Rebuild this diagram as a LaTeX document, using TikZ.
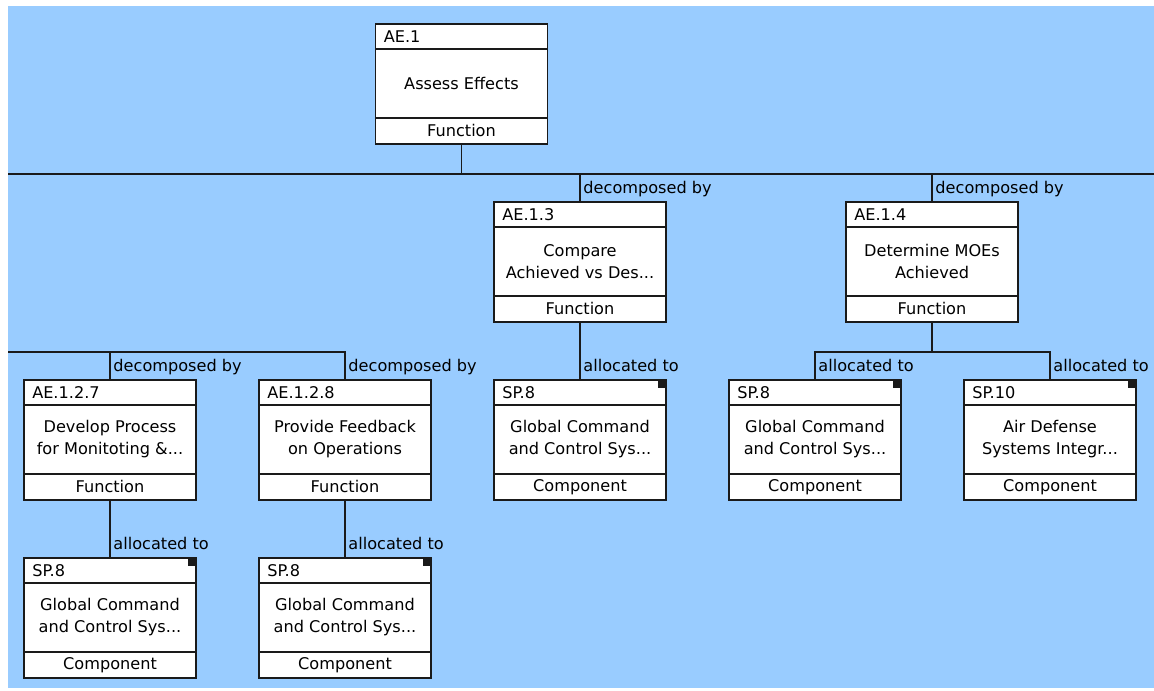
\documentclass[tikz,border=0pt]{standalone}
\usepackage{fontspec}
\setmainfont{DejaVu Sans}
\definecolor{canvasblue}{HTML}{99CCFF}
\definecolor{ink}{HTML}{1A1A1A}

% One element box: name, centre x, top y, identifier, body text, kind
\newcommand\elembox[6]{%
  \node[elem, anchor=north] (#1) at (#2,#3) {};
  \draw[sep] ([yshift=-18.75pt]#1.north west) -- ([yshift=-18.75pt]#1.north east);
  \draw[sep] ([yshift=19.5pt]#1.south west) -- ([yshift=19.5pt]#1.south east);
  \node[anchor=west] (#1-id) at ([xshift=6pt,yshift=-9.6pt]#1.north west) {#4};
  \node[align=center] (#1-body) at ([yshift=0.4pt]#1.center) {#5};
  \node (#1-kind) at ([yshift=9.9pt]#1.south) {#6};
}
% Small filled mark in the upper right corner of component boxes
\newcommand\cornermark[1]{%
  \fill[ink] (#1.north east) rectangle ++(-6pt,-6pt);
}

\begin{document}
\begin{tikzpicture}[x=0.75pt,y=-0.75pt,
  every node/.style={font=\fontsize{12.1pt}{16.5pt}\selectfont, inner sep=0pt, text=black},
  elem/.style={draw=ink, fill=white, line width=1.1pt, minimum width=129pt,
    minimum height=90pt, inner sep=0pt, outer sep=0pt},
  sep/.style={draw=ink, line width=1.1pt},
  link/.style={draw=ink, line width=1.3pt},
  lbl/.style={anchor=base west},
]
\useasboundingbox (0,0) rectangle (1154,691);
\fill[canvasblue] (8,6) rectangle (1154,688);

% elements
\elembox{ae1}{461.5}{24}{AE.1}{Assess Effects}{Function}
\elembox{ae13}{580}{202}{AE.1.3}{Compare\\Achieved vs Des...}{Function}
\elembox{ae14}{932}{202}{AE.1.4}{Determine MOEs\\Achieved}{Function}
\elembox{ae127}{110}{380}{AE.1.2.7}{Develop Process\\for Monitoting \&...}{Function}
\elembox{ae128}{345}{380}{AE.1.2.8}{Provide Feedback\\on Operations}{Function}
\elembox{sp8b}{580}{380}{SP.8}{Global Command\\and Control Sys...}{Component}
\elembox{sp8c}{815}{380}{SP.8}{Global Command\\and Control Sys...}{Component}
\elembox{sp10}{1050}{380}{SP.10}{Air Defense\\Systems Integr...}{Component}
\elembox{sp8d}{110}{558}{SP.8}{Global Command\\and Control Sys...}{Component}
\elembox{sp8e}{345}{558}{SP.8}{Global Command\\and Control Sys...}{Component}
\cornermark{sp8b}
\cornermark{sp8c}
\cornermark{sp10}
\cornermark{sp8d}
\cornermark{sp8e}

% connector junctions
\coordinate (busA) at (8,174);
\coordinate (busAend) at (1154,174);
\coordinate (busB) at (8,352);
\coordinate (fork14) at (932,352);

% decomposition of AE.1
\draw[link] (busA) -- (busAend);
\draw[link] (ae1.south) -- (ae1.south |- busA);
\draw[link] (ae13.north) -- (ae13.north |- busA);
\draw[link] (ae14.north) -- (ae14.north |- busA);

% decomposition feeding AE.1.2.7 and AE.1.2.8
\draw[link] (busB) -| (ae128.north);
\draw[link] (ae127.north) -- (ae127.north |- busB);

% allocations
\draw[link] (ae13.south) -- (sp8b.north);
\draw[link] (ae14.south) -- (fork14);
\draw[link] (sp8c.north) |- (fork14) -| (sp10.north);
\draw[link] (ae127.south) -- (sp8d.north);
\draw[link] (ae128.south) -- (sp8e.north);

% relation labels
\node[lbl] (l13) at ([xshift=2.4pt,yshift=6pt]ae13.north) {decomposed by};
\node[lbl] (l14) at ([xshift=2.4pt,yshift=6pt]ae14.north) {decomposed by};
\node[lbl] (l127) at ([xshift=2.4pt,yshift=6pt]ae127.north) {decomposed by};
\node[lbl] (l128) at ([xshift=2.4pt,yshift=6pt]ae128.north) {decomposed by};
\node[lbl] (l8b) at ([xshift=2.4pt,yshift=6pt]sp8b.north) {allocated to};
\node[lbl] (l8c) at ([xshift=2.4pt,yshift=6pt]sp8c.north) {allocated to};
\node[lbl] (l10) at ([xshift=2.4pt,yshift=6pt]sp10.north) {allocated to};
\node[lbl] (l8d) at ([xshift=2.4pt,yshift=6pt]sp8d.north) {allocated to};
\node[lbl] (l8e) at ([xshift=2.4pt,yshift=6pt]sp8e.north) {allocated to};
\end{tikzpicture}
\end{document}
